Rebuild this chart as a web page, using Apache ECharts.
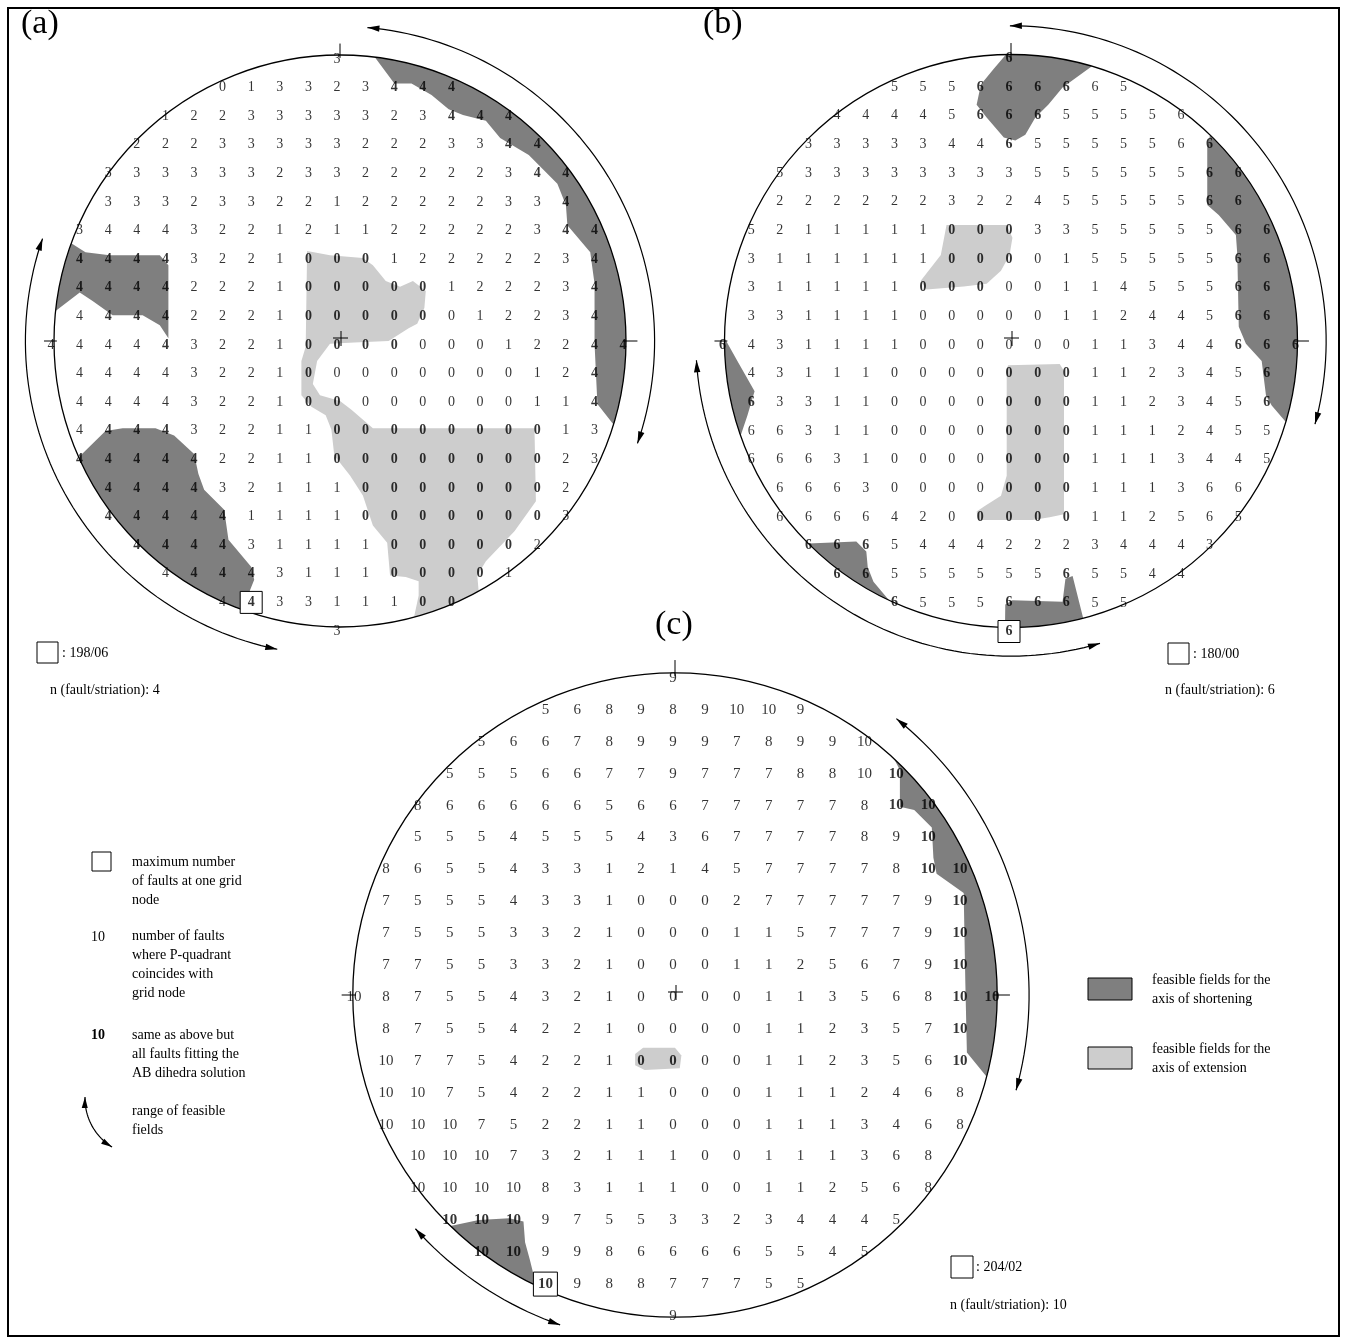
<!DOCTYPE html>
<html>
<head>
<meta charset="utf-8">
<script src="https://cdn.jsdelivr.net/npm/echarts@6/dist/echarts.min.js"></script>
<style>
  html, body { margin: 0; padding: 0; background: #fff; }
  #chart { width: 1346px; height: 1342px; }
</style>
</head>
<body>
<div id="chart"></div>
<script>
// grid counts per row: [row, first column, values]  ('*' = bold, fits the AB dihedra solution)
const rowsA = [
  [10, 0, '3'],
  [9, -4, '0 1 3 3 2 3 4* 4* 4*'],
  [8, -6, '1 2 2 3 3 3 3 3 2 3 4* 4* 4*'],
  [7, -7, '2 2 2 3 3 3 3 3 2 2 2 3 3 4* 4*'],
  [6, -8, '3 3 3 3 3 3 2 3 3 2 2 2 2 2 3 4* 4*'],
  [5, -8, '3 3 3 2 3 3 2 2 1 2 2 2 2 2 3 3 4*'],
  [4, -9, '3 4 4 4 3 2 2 1 2 1 1 2 2 2 2 2 3 4* 4*'],
  [3, -9, '4* 4* 4* 4* 3 2 2 1 0* 0* 0* 1 2 2 2 2 2 3 4*'],
  [2, -9, '4* 4* 4* 4* 2 2 2 1 0* 0* 0* 0* 0* 1 2 2 2 3 4*'],
  [1, -9, '4 4* 4* 4* 2 2 2 1 0* 0* 0* 0* 0* 0 1 2 2 3 4*'],
  [0, -10, '4 4 4 4 4* 3 2 2 1 0* 0* 0* 0* 0 0 0 1 2 2 4* 4*'],
  [-1, -9, '4 4 4 4 3 2 2 1 0* 0 0 0 0 0 0 0 1 2 4*'],
  [-2, -9, '4 4 4 4 3 2 2 1 0* 0* 0 0 0 0 0 0 1 1 4*'],
  [-3, -9, '4 4* 4* 4* 3 2 2 1 1 0* 0* 0* 0* 0* 0* 0* 0* 1 3'],
  [-4, -9, '4* 4* 4* 4* 4* 2 2 1 1 0* 0* 0* 0* 0* 0* 0* 0* 2 3'],
  [-5, -8, '4* 4* 4* 4* 3 2 1 1 1 0* 0* 0* 0* 0* 0* 0* 2'],
  [-6, -8, '4* 4* 4* 4* 4* 1 1 1 1 0* 0* 0* 0* 0* 0* 0* 3'],
  [-7, -7, '4* 4* 4* 4* 3 1 1 1 1 0* 0* 0* 0* 0* 2'],
  [-8, -6, '4 4* 4* 4* 3 1 1 1 0* 0* 0* 0* 1'],
  [-9, -4, '4 4* 3 3 1 1 1 0* 0*'],
  [-10, 0, '3']
];
const rowsB = [
  [10, 0, '6*'],
  [9, -4, '5 5 5 6* 6* 6* 6* 6 5'],
  [8, -6, '4 4 4 4 5 6* 6* 6* 5 5 5 5 6'],
  [7, -7, '3 3 3 3 3 4 4 6* 5 5 5 5 5 6 6*'],
  [6, -8, '5 3 3 3 3 3 3 3 3 5 5 5 5 5 5 6* 6*'],
  [5, -8, '2 2 2 2 2 2 3 2 2 4 5 5 5 5 5 6* 6*'],
  [4, -9, '5 2 1 1 1 1 1 0* 0* 0* 3 3 5 5 5 5 5 6* 6*'],
  [3, -9, '3 1 1 1 1 1 1 0* 0* 0* 0 1 5 5 5 5 5 6* 6*'],
  [2, -9, '3 1 1 1 1 1 0* 0* 0* 0 0 1 1 4 5 5 5 6* 6*'],
  [1, -9, '3 3 1 1 1 1 0 0 0 0 0 1 1 2 4 4 5 6* 6*'],
  [0, -10, '6* 4 3 1 1 1 1 0 0 0 0 0 0 1 1 3 4 4 6* 6* 6*'],
  [-1, -9, '4 3 1 1 1 0 0 0 0 0* 0* 0* 1 1 2 3 4 5 6*'],
  [-2, -9, '6* 3 3 1 1 0 0 0 0 0* 0* 0* 1 1 2 3 4 5 6*'],
  [-3, -9, '6 6 3 1 1 0 0 0 0 0* 0* 0* 1 1 1 2 4 5 5'],
  [-4, -9, '6 6 6 3 1 0 0 0 0 0* 0* 0* 1 1 1 3 4 4 5'],
  [-5, -8, '6 6 6 3 0 0 0 0 0* 0* 0* 1 1 1 3 6 6'],
  [-6, -8, '6 6 6 6 4 2 0 0* 0* 0* 0* 1 1 2 5 6 5'],
  [-7, -7, '6* 6* 6* 5 4 4 4 2 2 2 3 4 4 4 3'],
  [-8, -6, '6* 6* 5 5 5 5 5 5 6* 5 5 4 4'],
  [-9, -4, '6* 5 5 5 6* 6* 6* 5 5'],
  [-10, 0, '6*']
];
const rowsC = [
  [10, 0, '9'],
  [9, -4, '5 6 8 9 8 9 10 10 9'],
  [8, -6, '5 6 6 7 8 9 9 9 7 8 9 9 10'],
  [7, -7, '5 5 5 6 6 7 7 9 7 7 7 8 8 10 10*'],
  [6, -8, '8 6 6 6 6 6 5 6 6 7 7 7 7 7 8 10* 10*'],
  [5, -8, '5 5 5 4 5 5 5 4 3 6 7 7 7 7 8 9 10*'],
  [4, -9, '8 6 5 5 4 3 3 1 2 1 4 5 7 7 7 7 8 10* 10*'],
  [3, -9, '7 5 5 5 4 3 3 1 0 0 0 2 7 7 7 7 7 9 10*'],
  [2, -9, '7 5 5 5 3 3 2 1 0 0 0 1 1 5 7 7 7 9 10*'],
  [1, -9, '7 7 5 5 3 3 2 1 0 0 0 1 1 2 5 6 7 9 10*'],
  [0, -10, '10 8 7 5 5 4 3 2 1 0 0 0 0 1 1 3 5 6 8 10* 10*'],
  [-1, -9, '8 7 5 5 4 2 2 1 0 0 0 0 1 1 2 3 5 7 10*'],
  [-2, -9, '10 7 7 5 4 2 2 1 0* 0* 0 0 1 1 2 3 5 6 10*'],
  [-3, -9, '10 10 7 5 4 2 2 1 1 0 0 0 1 1 1 2 4 6 8'],
  [-4, -9, '10 10 10 7 5 2 2 1 1 0 0 0 1 1 1 3 4 6 8'],
  [-5, -8, '10 10 10 7 3 2 1 1 1 0 0 1 1 1 3 6 8'],
  [-6, -8, '10 10 10 10 8 3 1 1 1 0 0 1 1 2 5 6 8'],
  [-7, -7, '10* 10* 10* 9 7 5 5 3 3 2 3 4 4 4 5'],
  [-8, -6, '10* 10* 9 9 8 6 6 6 6 5 5 4 5'],
  [-9, -4, '10* 9 8 8 7 7 7 5 5'],
  [-10, 0, '9']
];

// grid node with the maximum number of faults [col, row]
const boxA = [-3, -9];
const boxB = [0, -10];
const boxC = [-4, -9];

// feasible fields, in grid units; {arc:[from, to]} follows the net circle (degrees)
const darkA = [
  [{arc: [83, -17]}, [9.0, -2.2], [8.9, -0.1], [8.9, 2], [8.75, 3.1], [7.95, 4.05], [7.9, 4.75], [7.6, 5.5],
   [6.6, 6.5], [5.6, 7.1], [5.1, 7.7], [4.3, 7.9], [3.8, 8.1], [3.2, 8.6], [2.5, 9.0], [1.9, 9.0]],
  [[-8.9, 3.1], [-8.05, 3.0], [-6.3, 3.0], [-6.0, 2.65], [-6.0, 0.1], [-6.3, 0.55], [-6.9, 0.9], [-7.95, 0.9],
   [-8.65, 1.4], [-9.1, 1.7], {arc: [174, 160]}],
  [[-8.2, -3.15], [-7.6, -3.05], [-6.45, -3.05], [-5.8, -3.3], [-5.1, -3.95], [-4.95, -4.65], [-4.75, -5.2],
   [-4.05, -5.9], [-3.9, -6.95], [-3.1, -7.9], [-3.0, -8.35], {arc: [250, 204]}]
];
const lightA = [
  [[-1.15, 3.15], [-0.35, 3.0], [0.8, 2.9], [1.15, 2.65], [1.6, 2.1], [2.1, 1.9], [2.55, 2.1], [3.0, 1.75],
   [2.95, 1.15], [2.7, 0.6], [2.4, 0.45], [1.7, 0], [0.5, -0.05], [-0.35, -0.1], [-0.8, -0.7], [-0.95, -1.5],
   [-0.7, -1.9], [0, -2.1], [0.4, -2.4], [1.15, -3.05], [6.8, -3.05], [6.85, -5.6], [6.1, -6.65], [5.1, -7.7],
   [4.8, -8.2], {arc: [-61, -75]}, [2.75, -8.9], [2.75, -8.4], [2.3, -8.25], [1.75, -8.2], [1.65, -7.05],
   [1.15, -6.45], [0.8, -5.4], [0.35, -4.7], [-0.2, -4.0], [-0.3, -3.1], [-0.5, -2.6], [-1.0, -2.3],
   [-1.35, -1.9], [-1.35, -0.7], [-1.2, -0.2]]
];
const darkB = [
  [[-0.6, 9.5], [-1.05, 8.95], [-1.2, 8.25], [-0.85, 7.8], [-0.25, 7.1], [0.15, 7.0], [0.5, 7.2], [0.85, 7.8],
   [1.3, 8.25], [1.8, 8.85], {arc: [73.6, 91]}],
  [{arc: [46, -16.4]}, [9.1, -2.25], [8.9, -1.9], [8.75, -0.7], [8.2, -0.1], [7.95, 0.5], [7.9, 3.0],
   [7.85, 3.7], [7.25, 4.4], [6.85, 4.75], [6.85, 6.75]],
  [{arc: [179.4, 199.3]}, [-9.2, -2.6], [-8.95, -1.75], [-9.55, -0.7]],
  [[-5.4, -7.0], [-5.05, -7.35], [-5.0, -7.9], [-4.8, -8.4], {arc: [244.8, 225]}],
  [[0.05, -9.05], [1.8, -9.1], [1.9, -8.3], [2.15, -8.2], {arc: [-75.4, -91.2]}, [-0.2, -9.2]]
];
const lightB = [
  [[-2.25, 4.05], [-0.15, 4.05], [0.05, 3.6], [-0.05, 3.0], [-0.35, 2.45], [-0.85, 2.0], [-1.65, 1.9],
   [-2.95, 1.8], [-3.15, 2.1], [-2.45, 3.0]],
  [[-0.1, -0.85], [1.7, -0.8], [1.85, -1.05], [1.85, -6.05], [1.35, -6.15], [0.75, -6.25], [-0.5, -6.25],
   [-1.15, -6.25], [-1.2, -5.95], [-0.9, -5.75], [-0.35, -5.4], [-0.15, -4.7], [-0.15, -1.0]]
];
const darkC = [
  [{arc: [47.2, -14.7]}, [9.15, -1.8], [9.1, 0.45], [9.05, 3.2], [8.2, 3.8], [8.1, 4.3], [8.05, 5.25],
   [7.5, 5.8], [7.05, 5.9], [7.05, 7.05]],
  [[-6.15, -7.05], [-5.2, -7.0], [-4.75, -7.1], [-4.7, -7.75], [-4.55, -8.3], {arc: [244.5, 225.8]}]
];
const lightC = [
  [[-1.25, -1.85], [-1.0, -1.65], [0.0, -1.65], [0.2, -1.9], [0.15, -2.3], [-0.95, -2.35], [-1.25, -2.2]]
];

// range of feasible fields: [radius, from angle, to angle]
const arrowsA = [[11.0, 85, -19], [11.0, 161, 258.5]];
const arrowsB = [[11.0, 90.2, -15.3], [11.0, 183.5, 286.4]];
const arrowsC = [[11.1, 51.3, -15.6], [10.95, 222, 250.8]];

const SERIF = '"Liberation Serif", "Times New Roman", serif';
const DARK = '#7f7f7f';
const LIGHT = '#cdcdcd';

const panels = [
  {cx: 340, cy: 341, unit: 28.6, R: 10.0, rows: rowsA, box: boxA, dark: darkA, light: lightA, arrows: arrowsA, off: [-3, 4], font: 14, boxSize: 22},
  {cx: 1011, cy: 341, unit: 28.65, R: 10.0, rows: rowsB, box: boxB, dark: darkB, light: lightB, arrows: arrowsB, off: [-2, 4], font: 14, boxSize: 22},
  {cx: 675, cy: 995, unit: 31.9, R: 10.1, rows: rowsC, box: boxC, dark: darkC, light: lightC, arrows: arrowsC, off: [-2, 2], font: 15, boxSize: 24}
];

function labelData(rows) {
  const out = [];
  rows.forEach(([r, c0, s]) => {
    s.split(' ').forEach((t, i) => {
      const bold = t.endsWith('*');
      out.push({value: [c0 + i, r, bold ? t.slice(0, -1) : t], label: {fontWeight: bold ? 'bold' : 'normal'}});
    });
  });
  return out;
}

function renderPanel(p, items) {
  return function (params, api) {
    const it = items[params.dataIndex];
    const o = api.coord([0, 0]);
    const u = api.size([1, 0])[0];
    const onCircle = (rad, deg) => {
      const a = deg * Math.PI / 180;
      return [o[0] + rad * u * Math.cos(a), o[1] - rad * u * Math.sin(a)];
    };
    const arcPts = (rad, a0, a1) => {
      const n = Math.max(2, Math.ceil(Math.abs(a1 - a0) / 1.5));
      const pts = [];
      for (let i = 0; i <= n; i++) pts.push(onCircle(rad, a0 + (a1 - a0) * i / n));
      return pts;
    };
    if (it.kind === 'fill') {
      const pts = [];
      it.pts.forEach(q => {
        if (q.arc) pts.push(...arcPts(p.R, q.arc[0], q.arc[1]));
        else pts.push(api.coord(q));
      });
      return {type: 'polygon', shape: {points: pts}, style: {fill: it.color}};
    }
    if (it.kind === 'circle') {
      return {type: 'circle', shape: {cx: o[0], cy: o[1], r: p.R * u},
        style: {fill: null, stroke: '#000', lineWidth: 1.3}};
    }
    if (it.kind === 'ticks') {
      const line = (a, b) => ({type: 'line', shape: {x1: a[0], y1: a[1], x2: b[0], y2: b[1]},
        style: {stroke: '#000', lineWidth: 1}});
      return {type: 'group', children: [
        line(onCircle(p.R - 0.1, 90), onCircle(p.R + 0.4, 90)),
        line(onCircle(p.R - 0.1, 0), onCircle(p.R + 0.4, 0)),
        line(onCircle(p.R - 0.1, 180), onCircle(p.R + 0.35, 180)),
        line([o[0] - 7, o[1] - 3], [o[0] + 8, o[1] - 3]),
        line([o[0] + 1, o[1] - 10], [o[0] + 1, o[1] + 5])
      ]};
    }
    if (it.kind === 'arrow') {
      const [rad, a0, a1] = it.arc;
      const s = Math.sign(a1 - a0);
      const head = (deg, dir) => {
        const a = deg * Math.PI / 180;
        const tip = onCircle(rad, deg);
        const dx = -Math.sin(a) * dir, dy = -Math.cos(a) * dir;
        const L = 12, W = 3.2;
        const bx = tip[0] - dx * L, by = tip[1] - dy * L;
        return {type: 'polygon', shape: {points: [tip, [bx - dy * W, by + dx * W], [bx + dy * W, by - dx * W]]},
          style: {fill: '#000'}};
      };
      return {type: 'group', children: [
        {type: 'polyline', shape: {points: arcPts(rad, a0, a1)}, style: {stroke: '#000', lineWidth: 1.2, fill: null}},
        head(a1, s), head(a0, -s)
      ]};
    }
    if (it.kind === 'box') {
      const c = api.coord(it.at);
      const h = p.boxSize / 2;
      return {type: 'rect', shape: {x: c[0] + p.off[0] - h, y: c[1] + p.off[1] - h, width: 2 * h, height: 2 * h},
        style: {fill: '#fff', stroke: '#000', lineWidth: 1}};
    }
    return null;
  };
}

const grids = [], xAxes = [], yAxes = [], series = [];
panels.forEach((p, gi) => {
  grids.push({left: p.cx - 10 * p.unit, top: p.cy - 10 * p.unit, width: 20 * p.unit, height: 20 * p.unit});
  xAxes.push({type: 'value', gridIndex: gi, min: -10, max: 10, show: false});
  yAxes.push({type: 'value', gridIndex: gi, min: -10, max: 10, show: false});
  const items = [];
  p.dark.forEach(pts => items.push({kind: 'fill', pts, color: DARK}));
  p.light.forEach(pts => items.push({kind: 'fill', pts, color: LIGHT}));
  items.push({kind: 'circle'});
  items.push({kind: 'ticks'});
  p.arrows.forEach(arc => items.push({kind: 'arrow', arc}));
  items.push({kind: 'box', at: p.box});
  series.push({
    type: 'custom', xAxisIndex: gi, yAxisIndex: gi, silent: true, z: 2,
    data: items.map(() => [0, 0]),
    renderItem: renderPanel(p, items)
  });
  series.push({
    type: 'scatter', xAxisIndex: gi, yAxisIndex: gi, silent: true, z: 5,
    symbolSize: 1, itemStyle: {color: 'rgba(0,0,0,0)'},
    data: labelData(p.rows),
    label: {show: true, position: 'inside', formatter: q => q.value[2], color: '#000',
      fontSize: p.font, fontFamily: SERIF, offset: p.off}
  });
});

function txt(text, x, y, size, extra) {
  return Object.assign({type: 'text', z: 10, silent: true,
    style: {text, x, y, font: (size || 14) + 'px ' + SERIF, fill: '#000', verticalAlign: 'middle', lineHeight: 19}}, extra || {});
}
function sq(x, y, w, h, fill) {
  return {type: 'rect', z: 10, silent: true, shape: {x, y, width: w, height: h},
    style: {fill: fill || '#fff', stroke: '#000', lineWidth: 1}};
}

// legend arc symbol
const legArc = (() => {
  const cx = 142, cy = 1098.5, r = 57, a0 = 121.7, a1 = 181.5;
  const pts = [];
  for (let i = 0; i <= 30; i++) {
    const a = (a0 + (a1 - a0) * i / 30) * Math.PI / 180;
    pts.push([cx + r * Math.cos(a), cy + r * Math.sin(a)]);
  }
  const head = (deg, dir) => {
    const a = deg * Math.PI / 180;
    const tip = [cx + r * Math.cos(a), cy + r * Math.sin(a)];
    const dx = -Math.sin(a) * dir, dy = Math.cos(a) * dir;
    const bx = tip[0] - dx * 11, by = tip[1] - dy * 11;
    return {type: 'polygon', z: 10, silent: true,
      shape: {points: [tip, [bx - dy * 3, by + dx * 3], [bx + dy * 3, by - dx * 3]]}, style: {fill: '#000'}};
  };
  return [{type: 'polyline', z: 10, silent: true, shape: {points: pts}, style: {stroke: '#000', lineWidth: 1.2, fill: null}},
    head(a1, 1), head(a0, -1)];
})();

const graphic = [
  {type: 'rect', z: 0, silent: true, shape: {x: 8, y: 8, width: 1331, height: 1328},
    style: {fill: null, stroke: '#000', lineWidth: 2}},
  txt('(a)', 21, 24, 34),
  txt('(b)', 703, 24, 34),
  txt('(c)', 655, 625, 34),
  sq(37, 642, 21, 21), txt(': 198/06', 62, 653, 14),
  txt('n (fault/striation): 4', 50, 690, 14),
  sq(1168, 643, 21, 21), txt(': 180/00', 1193, 654, 14),
  txt('n (fault/striation): 6', 1165, 690, 14),
  sq(951, 1256, 22, 22), txt(': 204/02', 976, 1267, 14),
  txt('n (fault/striation): 10', 950, 1305, 14),
  sq(92, 852, 19, 19),
  txt('maximum number\nof faults at one grid\nnode', 132, 881, 14),
  txt('10', 91, 937, 14),
  txt('number of faults\nwhere P-quadrant\ncoincides with\ngrid node', 132, 965, 14),
  txt('10', 91, 1035, 14, {style: {text: '10', x: 91, y: 1035, font: 'bold 14px ' + SERIF, fill: '#000', verticalAlign: 'middle'}}),
  txt('same as above but\nall faults fitting the\nAB dihedra solution', 132, 1054, 14),
  ...legArc,
  txt('range of feasible\nfields', 132, 1121, 14),
  sq(1088, 978, 44, 22, DARK),
  txt('feasible fields for the\naxis of shortening', 1152, 990, 14),
  sq(1088, 1047, 44, 22, LIGHT),
  txt('feasible fields for the\naxis of extension', 1152, 1059, 14)
];

const chart = echarts.init(document.getElementById('chart'), null, {renderer: 'canvas'});
chart.setOption({
  backgroundColor: '#fff',
  animation: false,
  grid: grids,
  xAxis: xAxes,
  yAxis: yAxes,
  series,
  graphic
});
</script>
</body>
</html>
